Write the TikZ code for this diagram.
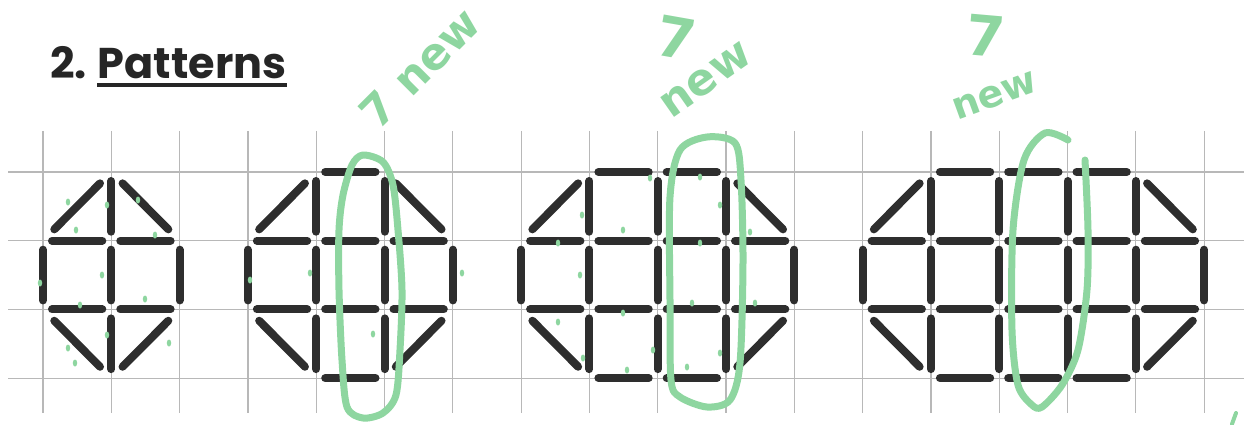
\documentclass[tikz,border=0pt]{standalone}
\usepackage{fontspec}
\setmainfont{Poppins}
\newfontfamily\handfont{DejaVu Sans}
\usepackage{tikz}
\usetikzlibrary{positioning}
\definecolor{GridGray}{HTML}{B8B8B8}
\definecolor{StickBlack}{HTML}{2E2E2E}
\definecolor{MarkerGreen}{HTML}{8ED6A0}
\definecolor{TitleGray}{HTML}{262626}
% one octagon of sticks: #1 = first grid column, #2 = squares in the middle row
\newcommand{\octa}[2]{%
  \pgfmathtruncatemacro{\oEnd}{#1+#2}%
  \pgfmathtruncatemacro{\oLast}{#1+#2-1}%
  \pgfmathtruncatemacro{\oFirst}{#1+1}%
  \pgfmathtruncatemacro{\oStop}{#1+#2-2}%
  \foreach \i in {#1,...,\oEnd} \draw[stick] (\i,1) -- (\i,2);
  \foreach \i in {#1,...,\oLast} {\draw[stick] (\i,1) -- ++(1,0); \draw[stick] (\i,2) -- ++(1,0);}
  \foreach \i in {\oFirst,...,\oLast} {\draw[stick] (\i,0) -- (\i,1); \draw[stick] (\i,2) -- (\i,3);}
  \ifnum\oStop<\oFirst\else
    \foreach \i in {\oFirst,...,\oStop} {\draw[stick] (\i,0) -- ++(1,0); \draw[stick] (\i,3) -- ++(1,0);}
  \fi
  \draw[slant] (#1,1) -- ++(1,-1);
  \draw[slant] (\oLast,0) -- (\oEnd,1);
  \draw[slant] (#1,2) -- ++(1,1);
  \draw[slant] (\oLast,3) -- (\oEnd,2);
}
\tikzset{
  titulo/.style   = {font=\fontsize{21.5}{21.5}\selectfont\bfseries, text=TitleGray, inner sep=0pt},
  gridline/.style = {draw=GridGray, line width=0.6pt},
  stick/.style    = {draw=StickBlack, line width=4pt, line cap=round,
                     shorten <=4.5pt, shorten >=4.5pt},
  slant/.style    = {stick, shorten <=8pt, shorten >=8pt},
  hilite/.style   = {draw=MarkerGreen, line width=3.5pt, line cap=round, line join=round},
  scrawl/.style   = {font=\handfont\bfseries\fontsize{22}{22}\selectfont, text=MarkerGreen, inner sep=0pt},
}
\begin{document}
\begin{tikzpicture}[x=0.5pt, y=-0.5pt]
  \useasboundingbox (0,0) rectangle (1244,424);
  % title
  \node[titulo, anchor=base west] (num) at (50,78) {2.};
  \node[titulo, base right=5pt of num] (word) {Patterns};
  \draw[TitleGray, line width=2pt] ([yshift=-3.5pt]word.base west) -- ([yshift=-3.5pt]word.base east);
  % squared paper and the four patterns
  \begin{scope}[shift={(43,172)}, x=34.15pt, y=-34.35pt]
    \foreach \r in {0,...,3} \draw[gridline] (-0.51,\r) -- (17.58,\r);
    \foreach \k in {0,...,17} \draw[gridline] (\k,-0.6) -- (\k,3.51);
    \octa{0}{2}
    \octa{3}{3}
    \octa{7}{4}
    \octa{12}{5}
  \end{scope}
  % green marker
  \draw[hilite] plot[smooth cycle] coordinates {(363,155) (383,162) (393,185) (398,230) (402,290) (400,350)
    (396,395) (383,413) (363,418) (347,407) (342,360) (339,290) (339,230) (343,195) (352,165)};
  \draw[hilite] plot[smooth cycle] coordinates {(707,137) (735,143) (741,180) (743,263) (740,363) (730,400)
    (707,407) (680,397) (671,380) (670,300) (670,197) (680,150)};
  \draw[hilite] plot[smooth] coordinates {(1068,140) (1045,133) (1024,160) (1013,230) (1012,330) (1018,385)
    (1032,405) (1042,407) (1062,385) (1078,350) (1087,290) (1088,230) (1085,160)};
  \draw[hilite, line width=2pt] (1232,424) -- (1236,413);
  \foreach \a/\b in {68/202, 107/205, 138/200, 76/230, 155/235, 102/275, 40/283, 80/305, 145/299,
    107/335, 68/348, 75/363, 169/343, 310/273, 250/280, 462/273, 373/334, 397/213,
    582/215, 623/230, 580/275, 558/322, 583/358, 653/350, 627/370, 700/177, 720/205, 650/178,
    700/243, 750/232, 692/303, 755/303, 720/353, 687/367, 558/243, 623/313}
    \fill[MarkerGreen] (\a,\b) ellipse (2.2 and 3.5);
  \node[scrawl, rotate=45] (note1) at (420,68) {7 new};
  \node[scrawl, rotate=-10, font=\handfont\bfseries\fontsize{28}{28}\selectfont] (seven2) at (676,38) {7};
  \node[scrawl, rotate=35] (note2) at (706,80) {new};
  \node[scrawl, rotate=-5, font=\handfont\bfseries\fontsize{28}{28}\selectfont] (seven3) at (986,36) {7};
  \node[scrawl, rotate=20, font=\handfont\bfseries\fontsize{19}{19}\selectfont] (note3) at (995,96) {new};
\end{tikzpicture}
\end{document}
